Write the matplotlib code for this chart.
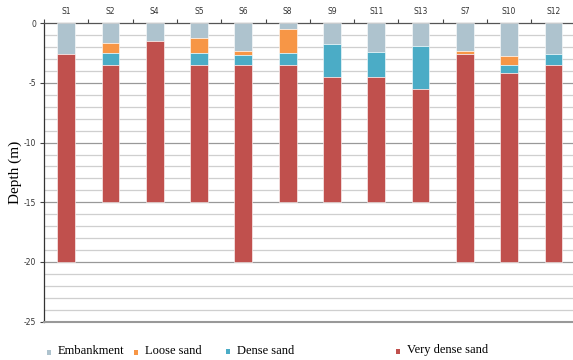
import matplotlib
matplotlib.use("Agg")
import matplotlib.pyplot as plt
from matplotlib.patches import Rectangle
import numpy as np

# Borehole names and layer thicknesses (m), top to bottom
boreholes = ["S1", "S2", "S4", "S5", "S6", "S8", "S9", "S11", "S13", "S7", "S10", "S12"]
embankment = [2.6, 1.65, 1.5, 1.2, 2.3, 0.5, 1.7, 2.4, 1.9, 2.35, 2.7, 2.6]
loose_sand = [0.0, 0.85, 0.0, 1.3, 0.35, 2.0, 0.0, 0.0, 0.0, 0.25, 0.8, 0.0]
dense_sand = [0.0, 1.0, 0.0, 1.0, 0.85, 1.0, 2.8, 2.1, 3.6, 0.0, 0.7, 0.9]
total_depth = [20, 15, 15, 15, 20, 15, 15, 15, 15, 20, 20, 20]

layer_names = ["Embankment", "Loose sand", "Dense sand", "Very dense sand"]
layer_colors = ["#AEC3CE", "#F79646", "#4BACC6", "#C0504D"]

very_dense = [t - (e + l + d) for t, e, l, d in
              zip(total_depth, embankment, loose_sand, dense_sand)]
layers = [embankment, loose_sand, dense_sand, very_dense]

fig = plt.figure(figsize=(5.73, 3.6), dpi=100)
ax = fig.add_axes([44 / 573, 1 - 321.5 / 360, 531.6 / 573, 298.2 / 360])

x = np.arange(len(boreholes))
top = np.zeros(len(boreholes))
for vals, color in zip(layers, layer_colors):
    vals = np.array(vals, dtype=float)
    ax.bar(x, -vals, bottom=-top, width=0.4, color=color,
           edgecolor="white", linewidth=0.4, zorder=3)
    top += vals

ax.set_xlim(-0.5, len(boreholes) - 0.5)
ax.set_ylim(-25, 0)

# Horizontal grid: every metre, darker every 5 m
for d in range(-24, 0):
    ax.axhline(d, color="#999999" if d % 5 == 0 else "#cfcfcf",
               linewidth=0.9, zorder=1)

# Category axis along the top
ax.xaxis.tick_top()
ax.set_xticks(np.arange(len(boreholes) + 1) - 0.5)
ax.set_xticklabels([])
ax.set_xticks(x, minor=True)
ax.set_xticklabels(boreholes, minor=True, fontsize=5.5, color="#333333",
                   fontfamily="DejaVu Sans")
ax.tick_params(axis="x", which="major", length=3, width=0.8, color="#444444",
               direction="out")
ax.tick_params(axis="x", which="minor", length=0, pad=5)

ax.set_yticks([0, -5, -10, -15, -20, -25])
ax.set_yticklabels(["0", "-5", "-10", "-15", "-20", "-25"], fontsize=5.5,
                   color="#333333", fontfamily="DejaVu Sans")
ax.tick_params(axis="y", length=3, width=0.8, color="#444444", pad=2.5)

ax.spines["right"].set_visible(False)
ax.spines["top"].set_color("#555555")
ax.spines["top"].set_linewidth(0.9)
ax.spines["left"].set_color("#333333")
ax.spines["left"].set_linewidth(0.9)
ax.spines["bottom"].set_color("#999999")
ax.spines["bottom"].set_linewidth(1.5)

fig.text(15 / 573, 1 - 172 / 360, "Depth (m)", rotation=90, ha="center",
         va="center", fontsize=11, fontfamily="Liberation Serif")

# Legend entries along the bottom
legend_pos = [(49, 352.5), (136, 352.5), (228, 351.5), (398, 351.5)]
for (px, py), name, color in zip(legend_pos, layer_names, layer_colors):
    fig.patches.append(Rectangle((px / 573 - 2.2 / 573, 1 - (py + 2.2) / 360),
                                 4.4 / 573, 4.4 / 360, transform=fig.transFigure,
                                 facecolor=color, edgecolor="none"))
    fig.text((px + 9) / 573, 1 - (py - 1) / 360, name, ha="left", va="center",
             fontsize=9, fontfamily="Liberation Serif")

fig.savefig("out.png", dpi=100)
